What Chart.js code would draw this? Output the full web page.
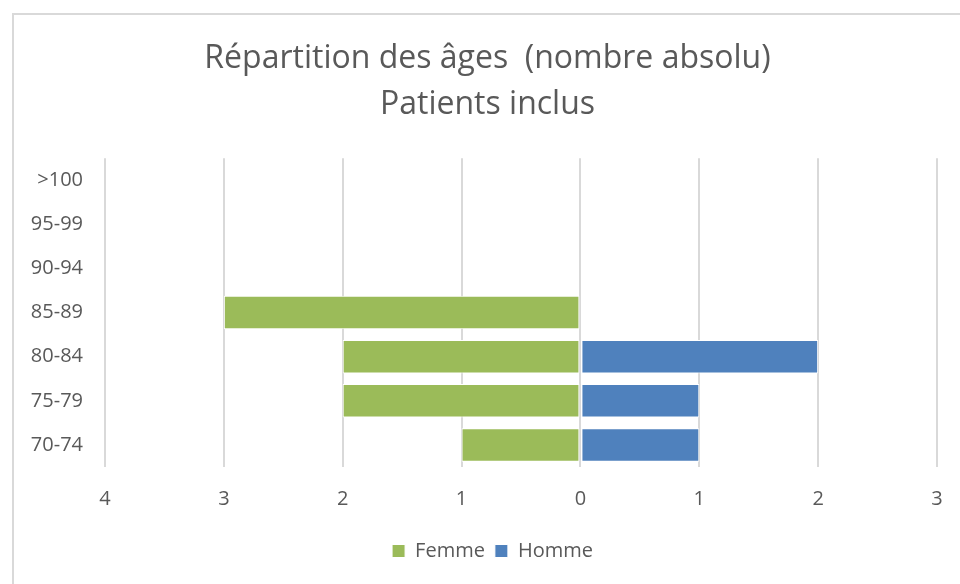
<!DOCTYPE html>
<html>
<head>
<meta charset="utf-8">
<script src="https://cdn.jsdelivr.net/npm/chart.js@4/dist/chart.umd.min.js"></script>
<style>
  html, body { margin: 0; padding: 0; background: #fff; }
  #wrap { position: relative; width: 960px; height: 584px; }
</style>
</head>
<body>
<div id="wrap"><canvas id="c" width="960" height="584"></canvas></div>
<script>
const categories = ['70-74', '75-79', '80-84', '85-89', '90-94', '95-99', '>100'];
const femme = [1, 2, 2, 3, 0, 0, 0];
const homme = [1, 1, 2, 0, 0, 0, 0];
const xTicks = [-4, -3, -2, -1, 0, 1, 2, 3];
const titleLines = ['Répartition des âges  (nombre absolu)', 'Patients inclus'];

const FONT = '"Open Sans", sans-serif';
const TXT = '#595959';

const frame = {
  id: 'frame',
  afterLayout(chart) {
    // the original chart object extends beyond the visible right edge,
    // so the title and legend are centred slightly right of the canvas centre
    if (chart.titleBlock) chart.titleBlock.left = 38;
    if (chart.legend) chart.legend.left = 48;
  },
  beforeDraw(chart) {
    const ctx = chart.ctx;
    ctx.save();
    ctx.strokeStyle = '#d9d9d9';
    ctx.lineWidth = 2;
    ctx.beginPath();
    ctx.moveTo(13, 590);
    ctx.lineTo(13, 14);
    ctx.lineTo(970, 14);
    ctx.stroke();
    ctx.restore();
  }
};

new Chart(document.getElementById('c'), {
  type: 'bar',
  data: {
    labels: categories,
    datasets: [
      { label: 'Femme', data: femme.map(v => -v), backgroundColor: '#9BBB59', borderColor: '#ffffff', borderWidth: 1, borderSkipped: false },
      { label: 'Homme', data: homme, backgroundColor: '#4F81BD', borderColor: '#ffffff', borderWidth: 1, borderSkipped: false }
    ]
  },
  options: {
    indexAxis: 'y',
    responsive: false,
    animation: false,
    devicePixelRatio: 1,
    layout: { padding: { left: 0, right: 23, top: 0, bottom: 13 } },
    datasets: { bar: { categoryPercentage: 1, barPercentage: 0.76 } },
    scales: {
      x: {
        stacked: true,
        min: -4, max: 3,
        afterBuildTicks(s) { s.ticks = xTicks.map(v => ({ value: v })); },
        afterFit(s) { s.height = 64; s.paddingLeft = 0; s.paddingRight = 0; },
        grid: { color: '#d9d9d9', lineWidth: 2, drawTicks: false },
        border: { display: false },
        ticks: { padding: 20, color: TXT, font: { family: FONT, size: 20 }, callback: v => Math.abs(v) }
      },
      y: {
        stacked: true,
        reverse: true,
        afterFit(s) { s.width = 105; },
        grid: { display: false, drawTicks: false },
        border: { display: false },
        ticks: { padding: 22, color: TXT, font: { family: FONT, size: 20 } }
      }
    },
    plugins: {
      title: {
        display: true,
        text: titleLines,
        color: TXT,
        font: { family: FONT, size: 32, weight: 'normal', lineHeight: 1.44 },
        padding: { top: 36, bottom: 30 }
      },
      legend: {
        position: 'bottom',
        labels: { color: TXT, font: { family: FONT, size: 20 }, boxWidth: 13, boxHeight: 13, padding: 10 }
      },
      tooltip: { enabled: false }
    }
  },
  plugins: [frame]
});
</script>
</body>
</html>
